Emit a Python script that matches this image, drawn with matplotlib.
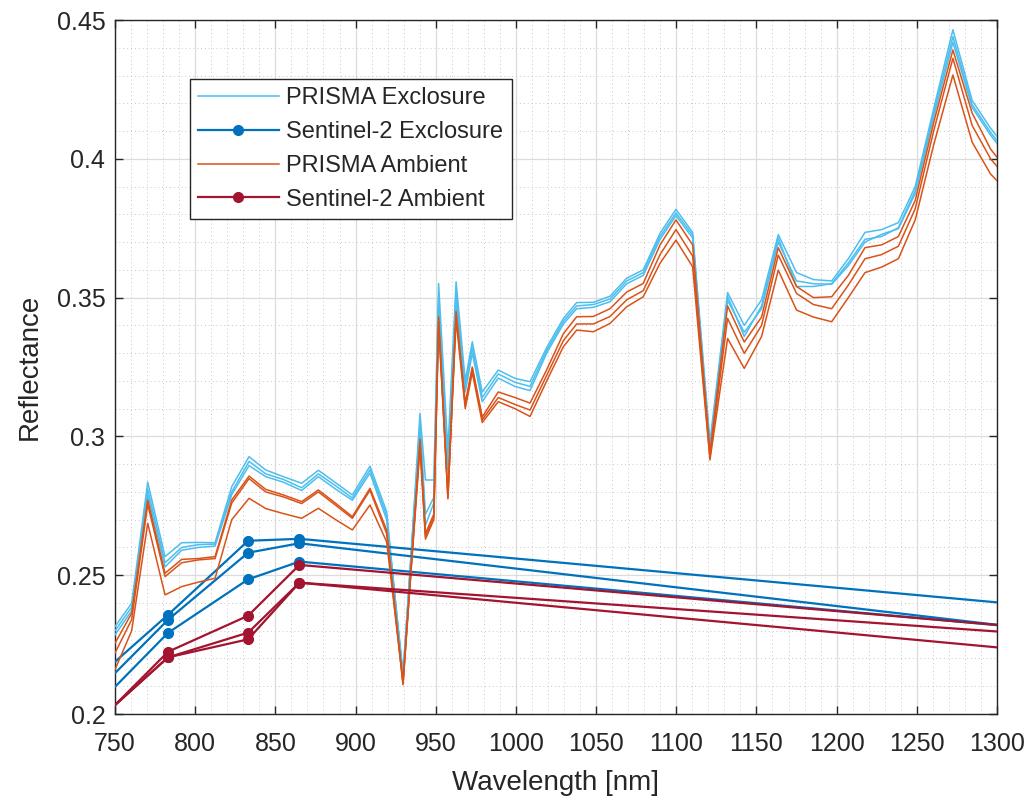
import matplotlib
matplotlib.use("Agg")
import matplotlib.pyplot as plt
from matplotlib.ticker import MultipleLocator

plt.rcParams["font.family"] = ["Liberation Sans", "DejaVu Sans"]

# PRISMA band centres (VNIR + SWIR merged, sorted) in nm
prisma_wl = [750.0, 760.4, 770.4, 781.2, 791.6, 802.0, 812.4, 822.8, 833.6, 844.0,
             855.0, 866.4, 876.8, 887.6, 898.0, 909.0, 919.4, 929.6, 940.2, 943.6,
             948.8, 951.8, 957.6, 962.7, 968.4, 972.8, 979.0, 989.0, 999.4, 1008.8,
             1019.2, 1029.6, 1037.9, 1048.3, 1058.7, 1069.1, 1079.4, 1089.9, 1099.8, 1110.2,
             1121.0, 1132.0, 1142.4, 1153.2, 1163.6, 1175.0, 1185.5, 1196.9, 1207.3, 1217.7,
             1228.1, 1238.5, 1249.0, 1260.5, 1272.5, 1284.5, 1296.0, 1307.0]

prisma_excl_1 = [0.2315, 0.2399, 0.2835, 0.2567, 0.2617, 0.2618, 0.2617, 0.2819, 0.2927, 0.2879,
                 0.2855, 0.2831, 0.2878, 0.2833, 0.2789, 0.2893, 0.2729, 0.2125, 0.3083, 0.2843,
                 0.2843, 0.3551, 0.2950, 0.3557, 0.3200, 0.3341, 0.3160, 0.3239, 0.3209, 0.3197,
                 0.3320, 0.3425, 0.3482, 0.3483, 0.3505, 0.3570, 0.3600, 0.3732, 0.3818, 0.3735,
                 0.2980, 0.3518, 0.3400, 0.3492, 0.3727, 0.3590, 0.3565, 0.3560, 0.3640, 0.3735,
                 0.3745, 0.3770, 0.3900, 0.4180, 0.4465, 0.4210, 0.4110, 0.4030]
prisma_excl_2 = [0.2300, 0.2385, 0.2810, 0.2545, 0.2600, 0.2610, 0.2612, 0.2800, 0.2910, 0.2865,
                 0.2845, 0.2815, 0.2865, 0.2822, 0.2778, 0.2880, 0.2715, 0.2140, 0.3050, 0.2720,
                 0.2780, 0.3500, 0.2900, 0.3520, 0.3180, 0.3320, 0.3140, 0.3225, 0.3195, 0.3180,
                 0.3310, 0.3415, 0.3470, 0.3475, 0.3495, 0.3560, 0.3590, 0.3720, 0.3805, 0.3725,
                 0.2960, 0.3505, 0.3360, 0.3470, 0.3715, 0.3540, 0.3540, 0.3550, 0.3625, 0.3710,
                 0.3720, 0.3752, 0.3885, 0.4165, 0.4440, 0.4195, 0.4095, 0.4015]
prisma_excl_3 = [0.2285, 0.2372, 0.2790, 0.2530, 0.2590, 0.2600, 0.2605, 0.2790, 0.2895, 0.2855,
                 0.2835, 0.2805, 0.2855, 0.2810, 0.2770, 0.2868, 0.2700, 0.2150, 0.3020, 0.2680,
                 0.2760, 0.3470, 0.2880, 0.3490, 0.3160, 0.3300, 0.3125, 0.3210, 0.3180, 0.3165,
                 0.3300, 0.3405, 0.3460, 0.3465, 0.3485, 0.3550, 0.3580, 0.3710, 0.3795, 0.3715,
                 0.2950, 0.3490, 0.3375, 0.3460, 0.3700, 0.3560, 0.3550, 0.3548, 0.3615, 0.3700,
                 0.3728, 0.3748, 0.3875, 0.4150, 0.4420, 0.4185, 0.4085, 0.4005]

prisma_amb_1 = [0.2255, 0.2363, 0.2771, 0.2507, 0.2557, 0.2560, 0.2567, 0.2771, 0.2857, 0.2809,
                0.2789, 0.2765, 0.2807, 0.2759, 0.2711, 0.2813, 0.2663, 0.2110, 0.2990, 0.2650,
                0.2720, 0.3430, 0.2780, 0.3450, 0.3120, 0.3250, 0.3070, 0.3160, 0.3140, 0.3120,
                0.3240, 0.3370, 0.3431, 0.3432, 0.3460, 0.3520, 0.3551, 0.3690, 0.3780, 0.3690,
                0.2940, 0.3470, 0.3340, 0.3430, 0.3680, 0.3540, 0.3500, 0.3503, 0.3580, 0.3680,
                0.3690, 0.3720, 0.3850, 0.4130, 0.4392, 0.4165, 0.4035, 0.3955]
prisma_amb_2 = [0.2220, 0.2340, 0.2755, 0.2495, 0.2545, 0.2555, 0.2560, 0.2760, 0.2848, 0.2800,
                0.2782, 0.2758, 0.2800, 0.2752, 0.2705, 0.2806, 0.2650, 0.2105, 0.2975, 0.2640,
                0.2710, 0.3415, 0.2775, 0.3440, 0.3110, 0.3245, 0.3060, 0.3140, 0.3115, 0.3095,
                0.3220, 0.3345, 0.3405, 0.3405, 0.3432, 0.3492, 0.3525, 0.3655, 0.3745, 0.3650,
                0.2925, 0.3425, 0.3299, 0.3400, 0.3653, 0.3515, 0.3475, 0.3460, 0.3545, 0.3640,
                0.3655, 0.3685, 0.3820, 0.4100, 0.4362, 0.4120, 0.4000, 0.3925]
prisma_amb_3 = [0.2160, 0.2300, 0.2687, 0.2429, 0.2459, 0.2475, 0.2489, 0.2700, 0.2777, 0.2740,
                0.2722, 0.2705, 0.2741, 0.2700, 0.2663, 0.2753, 0.2620, 0.2115, 0.2960, 0.2630,
                0.2700, 0.3400, 0.2790, 0.3420, 0.3100, 0.3230, 0.3050, 0.3125, 0.3100, 0.3072,
                0.3200, 0.3323, 0.3383, 0.3377, 0.3407, 0.3467, 0.3503, 0.3624, 0.3707, 0.3611,
                0.2915, 0.3353, 0.3245, 0.3360, 0.3599, 0.3455, 0.3430, 0.3413, 0.3500, 0.3590,
                0.3610, 0.3640, 0.3780, 0.4050, 0.4302, 0.4060, 0.3945, 0.3880]

# Sentinel-2 bands B6, B7, B8, B8A, B11 (nm)
s2_wl = [740, 783, 833, 865, 1610]

s2_excl_1 = [0.2137, 0.2357, 0.2624, 0.2631, 0.2239]
s2_excl_2 = [0.2089, 0.2339, 0.2581, 0.2615, 0.2112]
s2_excl_3 = [0.2039, 0.2292, 0.2485, 0.2549, 0.2157]
s2_amb_1 = [0.1974, 0.2224, 0.2354, 0.2537, 0.2167]
s2_amb_2 = [0.1980, 0.2204, 0.2293, 0.2473, 0.2172]
s2_amb_3 = [0.1980, 0.2204, 0.2269, 0.2473, 0.2074]

C_PR_EXCL = "#4DBEEE"
C_S2_EXCL = "#0072BD"
C_PR_AMB = "#D95319"
C_S2_AMB = "#A2142F"
INK = "#262626"

fig = plt.figure(figsize=(10.34, 8.01), dpi=100)
ax = fig.add_axes([115 / 1034, 87 / 801, 882 / 1034, 694 / 801])

for i, y in enumerate([prisma_excl_1, prisma_excl_2, prisma_excl_3]):
    ax.plot(prisma_wl, y, color=C_PR_EXCL, lw=1.1,
            label="PRISMA Exclosure" if i == 0 else None, zorder=3)
for i, y in enumerate([s2_excl_1, s2_excl_2, s2_excl_3]):
    ax.plot(s2_wl, y, color=C_S2_EXCL, lw=1.6, marker="o", ms=7,
            label="Sentinel-2 Exclosure" if i == 0 else None, zorder=4)
for i, y in enumerate([prisma_amb_1, prisma_amb_2, prisma_amb_3]):
    ax.plot(prisma_wl, y, color=C_PR_AMB, lw=1.1,
            label="PRISMA Ambient" if i == 0 else None, zorder=5)
for i, y in enumerate([s2_amb_1, s2_amb_2, s2_amb_3]):
    ax.plot(s2_wl, y, color=C_S2_AMB, lw=1.6, marker="o", ms=7,
            label="Sentinel-2 Ambient" if i == 0 else None, zorder=6)

ax.set_xlim(750, 1300)
ax.set_ylim(0.2, 0.45)
ax.xaxis.set_major_locator(MultipleLocator(50))
ax.xaxis.set_minor_locator(MultipleLocator(10))
ax.yaxis.set_major_locator(MultipleLocator(0.05))
ax.yaxis.set_minor_locator(MultipleLocator(0.01))
ax.set_yticks([0.2, 0.25, 0.3, 0.35, 0.4, 0.45])
ax.set_yticklabels(["0.2", "0.25", "0.3", "0.35", "0.4", "0.45"])

ax.grid(which="major", color="#dcdcdc", lw=0.9, zorder=0)
ax.grid(which="minor", color="#c8c8c8", lw=0.7, ls=(0, (1, 3)), zorder=0)
ax.set_axisbelow(True)

ax.tick_params(which="major", direction="in", length=6, width=1, colors=INK,
               labelsize=18, top=True, right=True)
ax.tick_params(axis="x", which="major", pad=13)
ax.tick_params(axis="y", which="major", pad=7)
ax.tick_params(which="minor", length=0, top=True, right=True)
for s in ax.spines.values():
    s.set_color(INK)
    s.set_linewidth(1.0)

ax.set_xlabel("Wavelength [nm]", fontsize=20, color=INK, labelpad=10)
ax.set_ylabel("Reflectance", fontsize=20, color=INK, labelpad=10)

leg = ax.legend(loc="upper left", bbox_to_anchor=(0.085, 0.915), fontsize=17,
                frameon=True, fancybox=False, framealpha=1, edgecolor=INK,
                handlelength=3.4, handletextpad=0.33, labelspacing=0.5,
                borderpad=0.35, borderaxespad=0)
leg.get_frame().set_linewidth(1.0)
for t in leg.get_texts():
    t.set_color(INK)

fig.savefig("out.png", dpi=100, facecolor="white")
